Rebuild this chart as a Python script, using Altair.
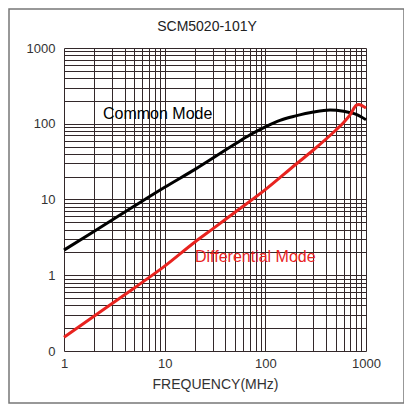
import altair as alt
import pandas as pd

# Common mode impedance (ohm) vs frequency (MHz)
freq_cm = [1, 2, 5, 10, 20, 50, 70, 100, 140, 200, 300, 440, 600, 700, 800, 900, 1000]
imp_cm = [2.15, 3.8, 8.2, 14.5, 25, 54, 71, 91, 111, 127, 143, 152, 146, 140, 133, 123, 113]

# Differential mode impedance (ohm) vs frequency (MHz)
freq_dm = [1, 2, 5, 10, 20, 30, 50, 100, 200, 300, 500, 600, 700, 800, 850, 920, 1000]
imp_dm = [0.152, 0.29, 0.68, 1.32, 2.75, 4.1, 6.8, 13.5, 29, 45, 82, 104, 133, 175, 180, 172, 161]

series_names = ["Common Mode", "Differential Mode"]
series_colors = ["#000000", "#e8231f"]

label_text = ["Common Mode", "Differential Mode"]
label_f = [2.44, 20]
label_z = [135, 1.72]

x_grid = [m * 10 ** e for e in range(0, 3) for m in range(1, 10)] + [1000]
y_grid = [round(m * 10 ** e, 3) for e in range(-1, 3) for m in range(1, 10)] + [1000]

title_text = "SCM5020-101Y"
x_title = "FREQUENCY(MHz)"

FONT = "Liberation Sans"
GRID = "#33282a"

lines_df = pd.concat([
    pd.DataFrame({"f": freq_cm, "z": imp_cm, "s": series_names[0]}),
    pd.DataFrame({"f": freq_dm, "z": imp_dm, "s": series_names[1]}),
])
labels_df = pd.DataFrame({"f": label_f, "z": label_z, "s": label_text})

xscale = alt.Scale(type="log", domain=[1, 1000])
yscale = alt.Scale(type="log", domain=[0.1, 1000])
cscale = alt.Scale(domain=series_names, range=series_colors)

x_axis = alt.Axis(
    values=x_grid, grid=True, gridColor=GRID, gridWidth=1, gridOpacity=1,
    ticks=False, tickSize=0, domain=False, labelOverlap=False, labelFlush=False,
    labelExpr="(datum.value==1||datum.value==10||datum.value==100||datum.value==1000) ? ''+datum.value : ''",
    labelFont=FONT, labelFontSize=13, labelColor="#333333", labelPadding=6,
    title=x_title, titleFont=FONT, titleFontSize=14, titleFontWeight="normal",
    titleColor="#333333", titlePadding=7,
)
y_axis = alt.Axis(
    values=y_grid, grid=True, gridColor=GRID, gridWidth=1, gridOpacity=1,
    ticks=False, tickSize=0, domain=False, labelOverlap=False,
    labelExpr="datum.value < 0.15 ? '0' : ((datum.value==1||datum.value==10||datum.value==100||datum.value==1000) ? ''+datum.value : '')",
    labelFont=FONT, labelFontSize=13, labelColor="#333333", labelPadding=9,
    title=None,
)

lines = alt.Chart(lines_df).mark_line(strokeWidth=3, interpolate="monotone").encode(
    x=alt.X("f:Q", scale=xscale, axis=x_axis),
    y=alt.Y("z:Q", scale=yscale, axis=y_axis),
    color=alt.Color("s:N", scale=cscale, legend=None),
    detail="s:N",
)

labels = alt.Chart(labels_df).mark_text(
    align="left", baseline="middle", font=FONT, fontSize=16
).encode(
    x=alt.X("f:Q", scale=xscale),
    y=alt.Y("z:Q", scale=yscale),
    text="s:N",
    color=alt.Color("s:N", scale=cscale, legend=None),
)

one = pd.DataFrame({"t": [title_text]})
frame = alt.Chart(one).mark_rect(
    fillOpacity=0, stroke="#777777", strokeWidth=1.5
).encode(
    x=alt.value(-55), x2=alt.value(340), y=alt.value(-39), y2=alt.value(355)
)
title = alt.Chart(one).mark_text(
    font=FONT, fontSize=14, color="#222222", align="center", baseline="middle"
).encode(x=alt.value(143), y=alt.value(-21), text="t:N")

chart = alt.layer(frame, lines, labels, title).properties(
    width=302, height=303,
    padding={"left": 56, "top": 40, "right": 38, "bottom": 53},
    autosize=alt.AutoSizeParams(type="none"),
).configure_view(stroke=None)

chart.save("out.html", embed_options={"renderer": "svg", "actions": False})
